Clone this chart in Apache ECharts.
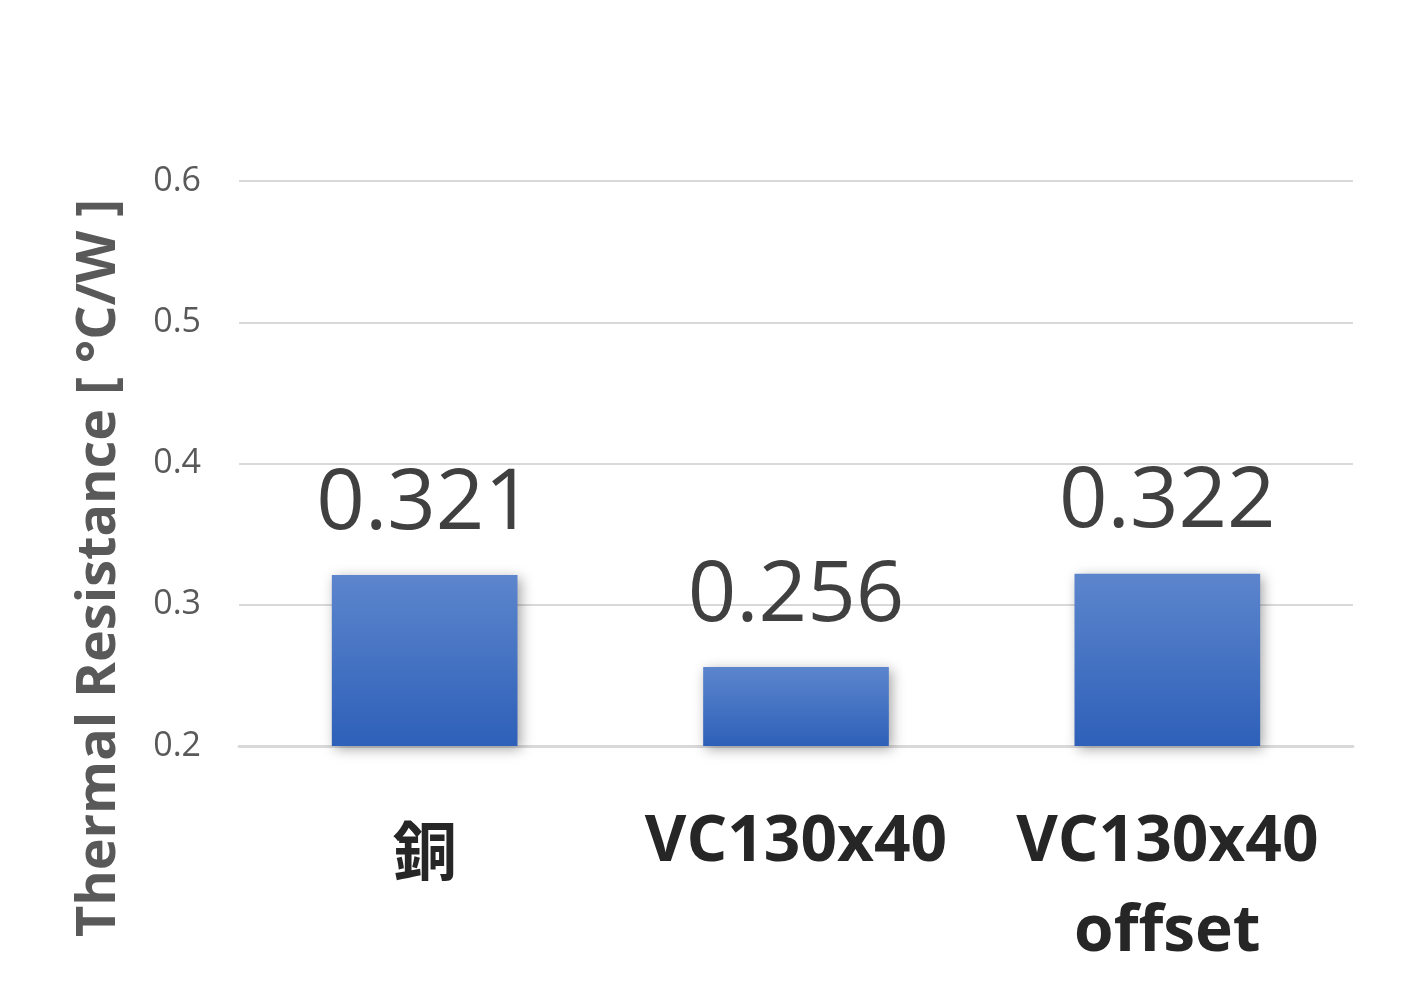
<!DOCTYPE html>
<html>
<head>
<meta charset="utf-8">
<script src="https://cdn.jsdelivr.net/npm/echarts@6/dist/echarts.min.js"></script>
<style>
  html, body { margin: 0; padding: 0; background: #fff; }
  #chart { width: 1404px; height: 1002px; }
</style>
</head>
<body>
<div id="chart"></div>
<script>
var categories = ["銅", "VC130x40", "VC130x40\noffset"];
var values = [0.321, 0.256, 0.322];
var yMin = 0.2, yMax = 0.6, yStep = 0.1;

var font = '"Open Sans", "Noto Sans CJK JP", sans-serif';
var chart = echarts.init(document.getElementById("chart"));

var option = {
  backgroundColor: "#fff",
  animation: false,
  grid: { left: 239, right: 51, top: 181, bottom: 256 },
  xAxis: {
    type: "category",
    data: categories,
    axisTick: { show: false },
    axisLine: { lineStyle: { color: "#D9D9D9", width: 3 } },
    axisLabel: {
      interval: 0,
      margin: 52,
      fontFamily: font,
      fontWeight: "bold",
      fontSize: 64,
      lineHeight: 90,
      color: "#262626",
      formatter: function (v) {
        // the CJK label sits a little lower in the original
        return /^[\u4e00-\u9fff]+$/.test(v) ? "{cjk|" + v + "}" : v;
      },
      rich: {
        cjk: {
          fontFamily: '"Noto Sans CJK JP", sans-serif',
          fontWeight: "bold",
          fontSize: 64,
          color: "#262626",
          padding: [16, 0, 0, 0]
        }
      }
    }
  },
  yAxis: {
    type: "value",
    min: yMin,
    max: yMax,
    interval: yStep,
    axisLine: { show: false },
    axisTick: { show: false },
    splitLine: { lineStyle: { color: "#D9D9D9", width: 2 } },
    axisLabel: {
      margin: 38,
      fontFamily: font,
      fontSize: 34,
      color: "#595959",
      formatter: function (v) { return v.toFixed(1); }
    }
  },
  graphic: [{
    type: "text",
    x: 100,
    y: 568,
    rotation: Math.PI / 2,
    style: {
      text: "Thermal Resistance [ °C/W ]",
      font: "bold 54px " + font,
      fill: "#595959",
      align: "center",
      verticalAlign: "middle"
    }
  }],
  series: [{
    type: "bar",
    data: values,
    barWidth: "50%",
    itemStyle: {
      color: new echarts.graphic.LinearGradient(0, 0, 0, 1, [
        { offset: 0, color: "#5C85CC" },
        { offset: 1, color: "#2E60B9" }
      ]),
      shadowBlur: 12,
      shadowColor: "rgba(0,0,0,0.35)",
      shadowOffsetX: 3,
      shadowOffsetY: 3
    },
    label: {
      show: true,
      position: "top",
      distance: 28,
      fontFamily: font,
      fontSize: 85,
      color: "#404040",
      formatter: function (p) { return p.value.toFixed(3); }
    }
  }]
};

chart.setOption(option);
</script>
</body>
</html>
